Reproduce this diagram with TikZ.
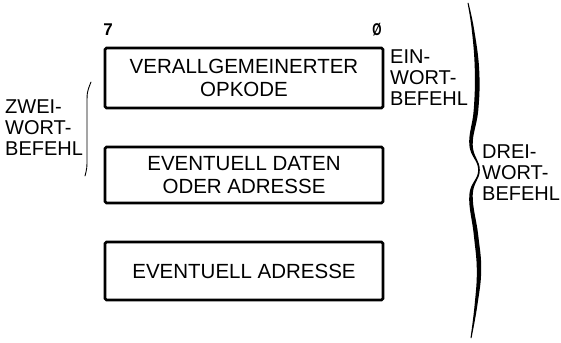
\documentclass[tikz,border=0pt]{standalone}
\usepackage{fontspec}
\setmainfont{Liberation Sans}
\begin{document}
\begin{tikzpicture}[x=1pt,y=-1pt,
  wbox/.style={draw, line width=2.8pt, rounded corners=1.5pt, minimum width=278pt, inner sep=0pt, align=center, font=\fontsize{20.5}{22.5}\selectfont},
  lbl/.style={anchor=west, align=left, inner sep=0pt, font=\fontsize{20}{21}\selectfont},
  bit/.style={inner sep=0pt, font=\bfseries\fontsize{17}{17}\selectfont},
  thinline/.style={line width=0.9pt, line cap=round}]
\useasboundingbox (0,0) rectangle (561,342);
% bit numbers
\node[bit] (b7) at (108,30) {7};
\node[bit] (b0) at (377,30) {\scalebox{0.7}[1]{Ø}};
% word boxes
\node[wbox, minimum height=60pt] (op) at (244,78) {VERALLGEMEINERTER\\OPKODE};
\node[wbox, minimum height=56pt] (dat) at (244,175) {EVENTUELL DATEN\\ODER ADRESSE};
\node[wbox, minimum height=58pt] (adr) at (244,271) {EVENTUELL ADRESSE};
% labels
\node[lbl] (ein) at (390,78) {EIN-\\WORT-\\BEFEHL};
\node[lbl] (zwei) at (5,128) {ZWEI-\\WORT-\\BEFEHL};
\node[lbl] (drei) at (482,173) {DREI-\\WORT-\\BEFEHL};
% small bracket
\draw[thinline] (91,82) .. controls (87,92) .. (87,105) -- (87,158) .. controls (87,168) .. (85,176);
% big brace
\fill plot[smooth, tension=0.7] coordinates {(468.5,3) (474.2,30) (479.2,70) (478.3,110) (472.7,145) (479.8,170) (472.7,195) (478.2,235) (481.2,270) (477.4,305) (471.5,338)}
  -- plot[smooth, tension=0.7] coordinates {(470.5,338) (474.6,305) (476.8,270) (473.8,235) (469.3,195) (478.2,170) (469.3,145) (473.7,110) (474.8,70) (471.8,30) (467.5,3)} -- cycle;
\end{tikzpicture}
\end{document}
